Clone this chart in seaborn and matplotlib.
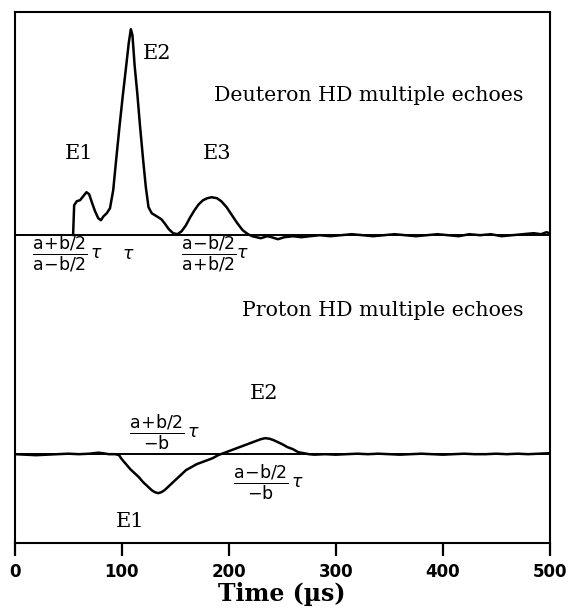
import pandas as pd
import numpy as np
import seaborn as sns
import matplotlib
matplotlib.use("Agg")
import matplotlib.pyplot as plt

# deuteron echo train (height above its baseline)
deut_time = [54.5, 55.5, 58, 61, 64, 67, 69.5, 72, 75, 78, 80.5, 83, 86, 89, 92, 95,
             98, 101, 104, 106.5, 108.5, 110, 112, 114.5, 117, 120, 122.5, 125, 128,
             131, 134, 137, 140, 144, 148, 152, 156, 160, 164, 168, 172, 176, 180,
             184, 189, 193, 198, 203, 208, 213, 218, 222, 226, 230, 236, 240, 246,
             252, 260, 268, 276, 285, 295, 305, 315, 325, 335, 345, 355, 365, 375,
             385, 395, 405, 415, 425, 435, 445, 455, 465, 475, 485, 492, 497, 500]
deut_signal = [0, 30, 34, 35, 39, 43, 41, 33, 24, 17, 15, 19, 22, 27, 45, 78,
               110, 140, 168, 192, 206, 200, 170, 142, 110, 75, 48, 28, 22,
               20, 18, 16, 12, 6, 2, 1, 4, 10, 18, 25, 31, 35, 37,
               38, 37, 34, 28, 20, 12, 5, 1, -1, -2, -3, -1, -2, -4,
               -2, -1, -2, -1, 0, -1, 0, 1, 0, -1, 0, 1, 0, -1,
               0, 1, 0, -1, 1, 0, 1, -1, 0, 1, 2, 1, 3, 2]

# proton echo train
prot_time = [0, 10, 20, 30, 40, 50, 60, 70, 78, 82, 88, 94, 97.5, 100, 104, 108,
             112, 116, 120, 124, 128, 131, 134, 137, 140, 144, 148, 152, 156, 160,
             165, 170, 175, 180, 185, 190, 195, 200, 205, 210, 215, 220, 225, 230,
             234, 238, 242, 246, 250, 255, 260, 265, 270, 275, 280, 290, 300, 310,
             320, 330, 340, 350, 360, 370, 380, 390, 400, 410, 420, 430, 440, 450,
             460, 470, 480, 490, 500]
prot_signal = [0, -0.5, -1, -0.5, 0, 0.5, 0, 0.5, 1.5, 1, 0, 0, -1, -5, -10, -15,
               -19, -23, -28, -32, -36, -38, -39, -38, -36, -32, -28, -24, -20, -16,
               -13, -10, -8, -6, -4, -1, 1, 3, 5, 7, 9, 11, 13, 15,
               16, 15.5, 14, 12, 10, 7, 5, 2, 1, 0, -0.5, 0, -0.5, 0,
               0.5, 0, 0.5, 0, -0.5, 0, 0.5, 0, -0.5, 0, 0.5, 0, 0, 0.5,
               0, 0.5, 0, 0.5, 1]

deut_offset = 0
prot_offset = -219
x_ticks = [0, 100, 200, 300, 400, 500]


def build_frame():
    d = pd.DataFrame({'time': deut_time, 'signal': np.array(deut_signal) + deut_offset,
                      'nucleus': 'Deuteron'})
    p = pd.DataFrame({'time': prot_time, 'signal': np.array(prot_signal) + prot_offset,
                      'nucleus': 'Proton'})
    return pd.concat([d, p], ignore_index=True)


def create_plot(data):
    sns.set_style('white')
    plt.rcParams['mathtext.fontset'] = 'dejavusans'
    plt.rcParams['text.color'] = 'black'
    fig = plt.figure(figsize=(5.69, 6.11), dpi=100)
    ax = fig.add_axes([0.026, 0.111, 0.940, 0.869])

    sns.lineplot(data=data, x='time', y='signal', hue='nucleus',
                 palette=['black', 'black'], estimator=None, sort=False,
                 linewidth=1.8, legend=False, ax=ax)
    ax.axhline(deut_offset, color='black', lw=1.4)
    ax.axhline(prot_offset, color='black', lw=1.4)

    ax.set_xlim(0, 500)
    ax.set_ylim(-308, 223)
    ax.set_yticks([])
    ax.set_xticks(x_ticks)
    ax.set_xticklabels([str(t) for t in x_ticks], fontsize=12, fontweight='bold',
                       family='DejaVu Sans', color='black')
    ax.tick_params(axis='x', direction='out', length=9, width=1.6, pad=5,
                   bottom=True, color='black')
    for s in ax.spines.values():
        s.set_color('black')
        s.set_linewidth(1.5)
    ax.set_xlabel('Time (µs)', fontsize=17, fontweight='bold', family='DejaVu Serif',
                  labelpad=1, color='black')
    ax.set_ylabel('')

    lab = dict(family='DejaVu Serif', fontsize=15, ha='center', va='center', color='black')
    ttl = dict(family='DejaVu Serif', fontsize=14.8, ha='center', va='center', color='black')
    frac = dict(fontsize=12.5, ha='center', va='center', color='black')

    # deuteron annotations
    ax.text(133, 182, 'E2', **lab)
    ax.text(60, 82, 'E1', **lab)
    ax.text(189, 82, 'E3', **lab)
    ax.text(331, 140, 'Deuteron HD multiple echoes', **ttl)
    ax.text(49, -19, r'$\dfrac{\mathrm{a\!+\!b/2}}{\mathrm{a\!-\!b/2}}\,\tau$', **frac)
    ax.text(106, -19, r'$\tau$', **frac)
    ax.text(187, -19, r'$\dfrac{\mathrm{a\!-\!b/2}}{\mathrm{a\!+\!b/2}}\tau$', **frac)

    # proton annotations
    ax.text(344, -75, 'Proton HD multiple echoes', **ttl)
    ax.text(233, -158, 'E2', **lab)
    ax.text(108, -286, 'E1', **lab)
    ax.text(140, -197, r'$\dfrac{\mathrm{a\!+\!b/2}}{\mathrm{-b}}\,\tau$', **frac)
    ax.text(237, -247, r'$\dfrac{\mathrm{a\!-\!b/2}}{\mathrm{-b}}\,\tau$', **frac)

    fig.savefig('out.png', dpi=100)


def main():
    data = build_frame()
    create_plot(data)


if __name__ == "__main__":
    main()
